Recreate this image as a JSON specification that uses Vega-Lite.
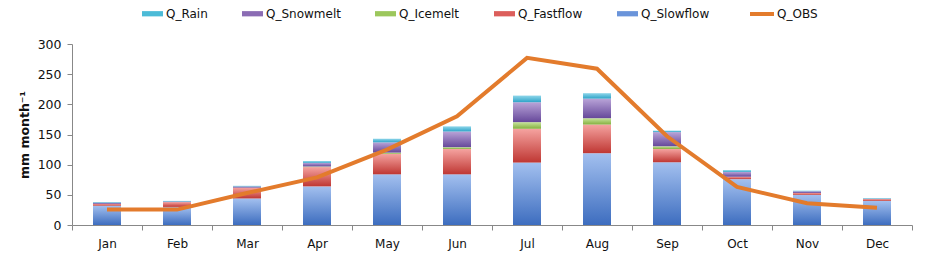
{
  "$schema": "https://vega.github.io/schema/vega-lite/v6.json",
  "width": 840,
  "height": 181,
  "autosize": {"type": "none"},
  "padding": {"left": 72, "top": 44, "right": 15, "bottom": 41},
  "background": "white",
  "config": {
    "view": {"stroke": null},
    "font": "DejaVu Sans",
    "axis": {"grid": false, "domainColor": "#888888", "tickColor": "#888888", "labelColor": "#111111", "labelFont": "DejaVu Sans"},
    "axisY": {"tickCount": 7, "labelOverlap": false, "labelFontSize": 12.5, "labelPadding": 6, "tickSize": 5, "titleFontSize": 12.5, "titleFontWeight": "bold", "titleFont": "DejaVu Sans", "titleColor": "#111111", "titlePadding": 6}
  },
  "datasets": {
    "stackorder": [
      {"series": "Q_Slowflow", "rank": 1},
      {"series": "Q_Fastflow", "rank": 2},
      {"series": "Q_Icemelt", "rank": 3},
      {"series": "Q_Snowmelt", "rank": 4},
      {"series": "Q_Rain", "rank": 5}
    ],
    "flows": [
      {"month": "Jan", "series": "Q_Slowflow", "value": 32},
      {"month": "Jan", "series": "Q_Fastflow", "value": 3},
      {"month": "Jan", "series": "Q_Icemelt", "value": 0},
      {"month": "Jan", "series": "Q_Snowmelt", "value": 2},
      {"month": "Jan", "series": "Q_Rain", "value": 1},
      {"month": "Feb", "series": "Q_Slowflow", "value": 30},
      {"month": "Feb", "series": "Q_Fastflow", "value": 8},
      {"month": "Feb", "series": "Q_Icemelt", "value": 0},
      {"month": "Feb", "series": "Q_Snowmelt", "value": 1},
      {"month": "Feb", "series": "Q_Rain", "value": 1},
      {"month": "Mar", "series": "Q_Slowflow", "value": 44},
      {"month": "Mar", "series": "Q_Fastflow", "value": 18},
      {"month": "Mar", "series": "Q_Icemelt", "value": 0},
      {"month": "Mar", "series": "Q_Snowmelt", "value": 2},
      {"month": "Mar", "series": "Q_Rain", "value": 1},
      {"month": "Apr", "series": "Q_Slowflow", "value": 64},
      {"month": "Apr", "series": "Q_Fastflow", "value": 32},
      {"month": "Apr", "series": "Q_Icemelt", "value": 1},
      {"month": "Apr", "series": "Q_Snowmelt", "value": 6},
      {"month": "Apr", "series": "Q_Rain", "value": 3},
      {"month": "May", "series": "Q_Slowflow", "value": 84},
      {"month": "May", "series": "Q_Fastflow", "value": 34},
      {"month": "May", "series": "Q_Icemelt", "value": 2},
      {"month": "May", "series": "Q_Snowmelt", "value": 17},
      {"month": "May", "series": "Q_Rain", "value": 6},
      {"month": "Jun", "series": "Q_Slowflow", "value": 84},
      {"month": "Jun", "series": "Q_Fastflow", "value": 42},
      {"month": "Jun", "series": "Q_Icemelt", "value": 3},
      {"month": "Jun", "series": "Q_Snowmelt", "value": 26},
      {"month": "Jun", "series": "Q_Rain", "value": 8.5},
      {"month": "Jul", "series": "Q_Slowflow", "value": 103.5},
      {"month": "Jul", "series": "Q_Fastflow", "value": 56},
      {"month": "Jul", "series": "Q_Icemelt", "value": 11},
      {"month": "Jul", "series": "Q_Snowmelt", "value": 33},
      {"month": "Jul", "series": "Q_Rain", "value": 11},
      {"month": "Aug", "series": "Q_Slowflow", "value": 119},
      {"month": "Aug", "series": "Q_Fastflow", "value": 47.5},
      {"month": "Aug", "series": "Q_Icemelt", "value": 10.5},
      {"month": "Aug", "series": "Q_Snowmelt", "value": 32.5},
      {"month": "Aug", "series": "Q_Rain", "value": 9},
      {"month": "Sep", "series": "Q_Slowflow", "value": 104},
      {"month": "Sep", "series": "Q_Fastflow", "value": 22},
      {"month": "Sep", "series": "Q_Icemelt", "value": 4.5},
      {"month": "Sep", "series": "Q_Snowmelt", "value": 23.5},
      {"month": "Sep", "series": "Q_Rain", "value": 2.5},
      {"month": "Oct", "series": "Q_Slowflow", "value": 76},
      {"month": "Oct", "series": "Q_Fastflow", "value": 4},
      {"month": "Oct", "series": "Q_Icemelt", "value": 0},
      {"month": "Oct", "series": "Q_Snowmelt", "value": 8},
      {"month": "Oct", "series": "Q_Rain", "value": 3},
      {"month": "Nov", "series": "Q_Slowflow", "value": 50},
      {"month": "Nov", "series": "Q_Fastflow", "value": 3},
      {"month": "Nov", "series": "Q_Icemelt", "value": 0},
      {"month": "Nov", "series": "Q_Snowmelt", "value": 3},
      {"month": "Nov", "series": "Q_Rain", "value": 1},
      {"month": "Dec", "series": "Q_Slowflow", "value": 40},
      {"month": "Dec", "series": "Q_Fastflow", "value": 3},
      {"month": "Dec", "series": "Q_Icemelt", "value": 0},
      {"month": "Dec", "series": "Q_Snowmelt", "value": 0.5},
      {"month": "Dec", "series": "Q_Rain", "value": 1}
    ],
    "obs": [
      {"month": "Jan", "series": "Q_OBS", "value": 25.5},
      {"month": "Feb", "series": "Q_OBS", "value": 25.5},
      {"month": "Mar", "series": "Q_OBS", "value": 53},
      {"month": "Apr", "series": "Q_OBS", "value": 79},
      {"month": "May", "series": "Q_OBS", "value": 125},
      {"month": "Jun", "series": "Q_OBS", "value": 180},
      {"month": "Jul", "series": "Q_OBS", "value": 277},
      {"month": "Aug", "series": "Q_OBS", "value": 259},
      {"month": "Sep", "series": "Q_OBS", "value": 147},
      {"month": "Oct", "series": "Q_OBS", "value": 63},
      {"month": "Nov", "series": "Q_OBS", "value": 36},
      {"month": "Dec", "series": "Q_OBS", "value": 28.5}
    ]
  },
  "encoding": {
    "x": {
      "field": "month", "type": "nominal",
      "sort": ["Jan","Feb","Mar","Apr","May","Jun","Jul","Aug","Sep","Oct","Nov","Dec"],
      "scale": {"paddingInner": 0, "paddingOuter": 0},
      "axis": {"title": null, "labelAngle": 0, "labelFontSize": 12, "labelPadding": 8, "tickBand": "extent", "tickSize": 5}
    }
  },
  "layer": [
    {
      "data": {"name": "flows"},
      "mark": {"type": "bar", "width": {"band": 0.4}},
      "encoding": {
        "y": {"datum": 0, "type": "quantitative", "scale": {"domain": [0, 300], "nice": false}},
        "y2": {"datum": 0},
        "fill": {
          "field": "series", "type": "nominal",
          "scale": {
            "domain": ["Q_Rain", "Q_Snowmelt", "Q_Icemelt", "Q_Fastflow", "Q_Slowflow"],
            "range": ["#4CBBD7", "#8B6CB4", "#9CC75C", "#DC5E5B", "#6A94DA"]
          },
          "legend": {
            "title": null, "orient": "none", "direction": "horizontal", "legendX": 70, "legendY": -41,
            "symbolType": "M-1,-0.25H1V0.25H-1Z", "symbolSize": 441, "symbolStrokeWidth": 0,
            "labelFontSize": 12, "labelFont": "DejaVu Sans", "labelColor": "#111111", "labelOffset": 3, "columnPadding": 34
          }
        }
      }
    },
    {
      "data": {"name": "flows"},
      "transform": [
        {"lookup": "series", "from": {"data": {"name": "stackorder"}, "key": "series", "fields": ["rank"]}},
        {"stack": "value", "groupby": ["month"], "sort": [{"field": "rank", "order": "ascending"}], "as": ["v0", "v1"]}
      ],
      "layer": [
        {
          "transform": [{"filter": "datum.series === 'Q_Slowflow'"}],
          "mark": {"type": "bar", "width": {"band": 0.4}, "fill": {"gradient": "linear", "x1": 0, "y1": 0, "x2": 0, "y2": 1, "stops": [{"offset": 0, "color": "#a3c0ef"}, {"offset": 1, "color": "#3d6dbf"}]}},
          "encoding": {"y": {"field": "v1", "type": "quantitative"}, "y2": {"field": "v0"}}
        },
        {
          "transform": [{"filter": "datum.series === 'Q_Fastflow'"}],
          "mark": {"type": "bar", "width": {"band": 0.4}, "fill": {"gradient": "linear", "x1": 0, "y1": 0, "x2": 0, "y2": 1, "stops": [{"offset": 0, "color": "#f5a3a0"}, {"offset": 1, "color": "#bf3733"}]}},
          "encoding": {"y": {"field": "v1", "type": "quantitative"}, "y2": {"field": "v0"}}
        },
        {
          "transform": [{"filter": "datum.series === 'Q_Icemelt'"}],
          "mark": {"type": "bar", "width": {"band": 0.4}, "fill": {"gradient": "linear", "x1": 0, "y1": 0, "x2": 0, "y2": 1, "stops": [{"offset": 0, "color": "#c8e49c"}, {"offset": 1, "color": "#84b03e"}]}},
          "encoding": {"y": {"field": "v1", "type": "quantitative"}, "y2": {"field": "v0"}}
        },
        {
          "transform": [{"filter": "datum.series === 'Q_Snowmelt'"}],
          "mark": {"type": "bar", "width": {"band": 0.4}, "fill": {"gradient": "linear", "x1": 0, "y1": 0, "x2": 0, "y2": 1, "stops": [{"offset": 0, "color": "#b9a4d8"}, {"offset": 1, "color": "#66489a"}]}},
          "encoding": {"y": {"field": "v1", "type": "quantitative"}, "y2": {"field": "v0"}}
        },
        {
          "transform": [{"filter": "datum.series === 'Q_Rain'"}],
          "mark": {"type": "bar", "width": {"band": 0.4}, "fill": {"gradient": "linear", "x1": 0, "y1": 0, "x2": 0, "y2": 1, "stops": [{"offset": 0, "color": "#8fd6ea"}, {"offset": 1, "color": "#2ea4c8"}]}},
          "encoding": {"y": {"field": "v1", "type": "quantitative"}, "y2": {"field": "v0"}}
        }
      ]
    },
    {
      "data": {"name": "obs"},
      "mark": {"type": "line", "strokeWidth": 4},
      "encoding": {
        "y": {
          "field": "value", "type": "quantitative",
          "scale": {"domain": [0, 300], "nice": false},
          "axis": {"title": "mm month⁻¹"}
        },
        "stroke": {
          "field": "series", "type": "nominal",
          "scale": {"domain": ["Q_OBS"], "range": ["#E37B2C"]},
          "legend": {
            "title": null, "orient": "none", "direction": "horizontal", "legendX": 676, "legendY": -44,
            "symbolType": "stroke", "symbolSize": 576, "symbolStrokeWidth": 4,
            "labelFontSize": 12, "labelFont": "DejaVu Sans", "labelColor": "#111111", "labelOffset": 1
          }
        }
      }
    }
  ]
}
